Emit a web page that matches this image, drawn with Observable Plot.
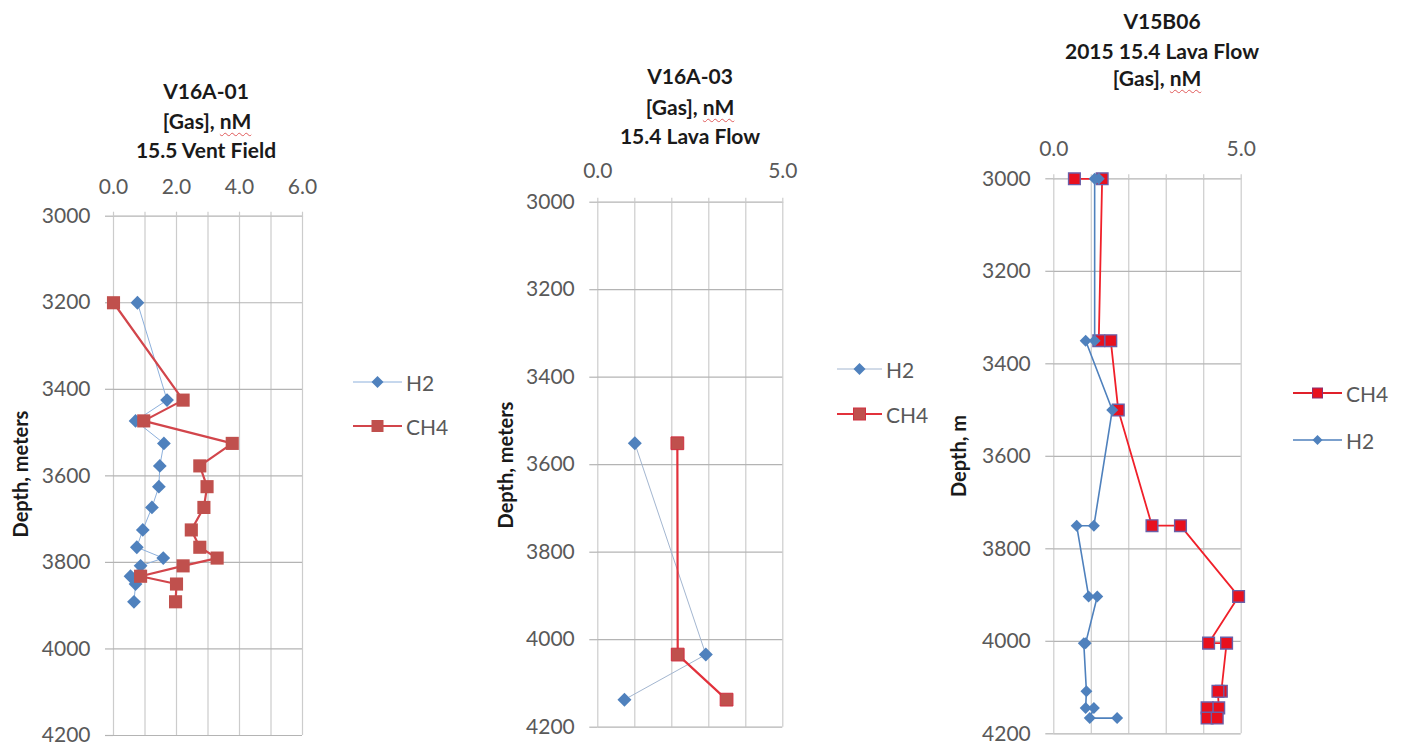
<!DOCTYPE html>
<html>
<head>
<meta charset="utf-8">
<script src="https://cdn.jsdelivr.net/npm/d3@7"></script>
<script src="https://cdn.jsdelivr.net/npm/@observablehq/plot@0.6"></script>
<style>
  body { margin: 0; background: #fff; }
  #wrap { position: relative; width: 1401px; height: 746px; overflow: hidden; background: #fff; font-family: Lato, "Open Sans", sans-serif; }
  .abs { position: absolute; white-space: nowrap; line-height: 1; }
  .title { font-weight: bold; font-size: 21px; color: #1a1a1a; transform: translate(-50%, -50%); }
  .ylab { font-weight: bold; font-size: 20px; color: #1a1a1a; transform: translate(-50%, -50%) rotate(-90deg); }
  .leg { font-size: 21px; color: #595959; transform: translateY(-50%); }
  .sq { text-decoration: underline wavy #e05a5a; text-decoration-thickness: 1px; text-underline-offset: 3px; }
  svg.plot { position: absolute; overflow: visible; }
</style>
</head>
<body>
<div id="wrap"></div>
<script>
// ---------------- DATA ----------------
// Panel 1: V16A-01, 15.5 Vent Field
const p1Depth = [3200, 3425, 3473, 3525, 3577, 3625, 3673, 3725, 3765, 3790, 3808, 3832, 3850, 3891];
const p1H2    = [0.76, 1.70, 0.70, 1.60, 1.47, 1.44, 1.22, 0.93, 0.74, 1.58, 0.86, 0.54, 0.70, 0.65];
const p1CH4   = [0.00, 2.21, 0.96, 3.77, 2.74, 2.97, 2.87, 2.47, 2.74, 3.29, 2.21, 0.86, 2.00, 1.97];

// Panel 2: V16A-03, 15.4 Lava Flow
const p2Depth = [3551, 4034, 4137];
const p2H2    = [1.00, 2.92, 0.72];
const p2CH4   = [2.15, 2.16, 3.48];

// Panel 3: V15B06, 2015 15.4 Lava Flow
const p3CH4Depth = [3000, 3000, 3350, 3350, 3500, 3750, 3750, 3903, 4004, 4004, 4108, 4108, 4144, 4144, 4166, 4166];
const p3CH4      = [0.55, 1.29, 1.20, 1.52, 1.72, 2.62, 3.38, 4.93, 4.13, 4.61, 4.47, 4.38, 4.40, 4.09, 4.09, 4.36];
const p3H2Depth  = [3000, 3000, 3350, 3350, 3500, 3750, 3750, 3903, 3903, 4004, 4004, 4108, 4144, 4144, 4166, 4166];
const p3H2       = [1.20, 1.09, 1.09, 0.85, 1.56, 1.07, 0.61, 0.93, 1.16, 0.85, 0.80, 0.87, 0.85, 1.07, 0.96, 1.69];

// Ticks
const depthTicks = [3000, 3200, 3400, 3600, 3800, 4000, 4200];
const p1XGrid = [0, 1, 2, 3, 4, 5, 6];
const p1XLabels = [0, 2, 4, 6];
const p23XGrid = [0, 1, 2, 3, 4, 5];
const p23XLabels = [0, 5];

// ---------------- HELPERS ----------------
const wrap = document.getElementById("wrap");
const FONT = 'Lato, "Open Sans", sans-serif';
const GRIDH = "#b4b4b4", GRIDV = "#cccccc", LABEL = "#595959";
const BLUE = "#4f81bd";

function zip(depth, vals) { return depth.map((d, i) => ({d, v: vals[i]})); }

function addDiv(cls, html, left, top) {
  const el = document.createElement("div");
  el.className = "abs " + cls;
  el.innerHTML = html;
  el.style.left = left + "px";
  el.style.top = top + "px";
  wrap.appendChild(el);
  return el;
}

function panel(cfg) {
  const svg = Plot.plot({
    width: cfg.width, height: cfg.height,
    marginLeft: cfg.ml, marginRight: cfg.mr, marginTop: cfg.mt, marginBottom: cfg.mb,
    x: {domain: [0, cfg.xmax], axis: null},
    y: {domain: [3000, 4200], reverse: true, axis: null},
    style: {fontFamily: FONT, fontSize: "21px", color: LABEL, background: "transparent", overflow: "visible"},
    marks: [
      Plot.gridX(cfg.xgrid, {stroke: GRIDV, strokeOpacity: 1, strokeWidth: 1.2}),
      Plot.gridY(depthTicks, {stroke: GRIDH, strokeOpacity: 1, strokeWidth: 1.2}),
      Plot.axisX({anchor: "top", ticks: cfg.xgrid, tickSize: 5, stroke: GRIDV, strokeWidth: 1.2, tickPadding: cfg.xpad,
        fill: LABEL, tickFormat: d => cfg.xlabels.includes(d) ? d.toFixed(1) : "", label: null}),
      Plot.axisY({anchor: "left", ticks: depthTicks, tickSize: 8, stroke: GRIDH, strokeWidth: 1.2, tickPadding: 15,
        fill: LABEL, tickFormat: d => String(d), label: null}),
      ...cfg.marks
    ]
  });
  svg.classList.add("plot");
  svg.style.left = cfg.left + "px";
  svg.style.top = cfg.top + "px";
  wrap.appendChild(svg);
}

function legendItem(x1, x2, y, textLeft, label, line, marker) {
  const w = x2 - x1, h = 20;
  const m = marker.type === "square"
    ? `<rect x="${w/2 - marker.s/2}" y="${h/2 - marker.s/2}" width="${marker.s}" height="${marker.s}" fill="${marker.fill}" stroke="${marker.stroke || 'none'}" stroke-width="1"/>`
    : `<path d="M${w/2},${h/2 - marker.s/2} L${w/2 + marker.s/2},${h/2} L${w/2},${h/2 + marker.s/2} L${w/2 - marker.s/2},${h/2} Z" fill="${marker.fill}"/>`;
  const el = document.createElement("div");
  el.className = "abs";
  el.style.left = x1 + "px"; el.style.top = (y - h/2) + "px";
  el.innerHTML = `<svg width="${w}" height="${h}" style="display:block"><line x1="0" x2="${w}" y1="${h/2}" y2="${h/2}" stroke="${line.stroke}" stroke-width="${line.width}"/>${m}</svg>`;
  wrap.appendChild(el);
  addDiv("leg", label, textLeft, y);
}

// ---------------- PANEL 1 ----------------
const p1H2Data = zip(p1Depth, p1H2), p1CH4Data = zip(p1Depth, p1CH4);
panel({
  left: 0, top: 150, width: 340, height: 596, ml: 113, mr: 38, mt: 65.7, mb: 11,
  xmax: 6, xgrid: p1XGrid, xlabels: p1XLabels, xpad: 17,
  marks: [
    Plot.line(p1H2Data, {x: "v", y: "d", stroke: "#8db0dc", strokeWidth: 1}),
    Plot.dot(p1H2Data, {x: "v", y: "d", symbol: "diamond2", r: 6.2, fill: BLUE}),
    Plot.line(p1CH4Data, {x: "v", y: "d", stroke: "#d2454b", strokeWidth: 2.2}),
    Plot.dot(p1CH4Data, {x: "v", y: "d", symbol: "square", r: 7.4, fill: "#c0504d"})
  ]
});
addDiv("title", "V16A-01", 206, 90);
addDiv("title", '[Gas], <span class="sq">nM</span>', 207, 120);
addDiv("title", "15.5 Vent Field", 206, 149);
addDiv("ylab", "Depth, meters", 20, 474);
legendItem(353, 402, 382, 406, "H2", {stroke: "#8db0dc", width: 1}, {type: "diamond", s: 12, fill: BLUE});
legendItem(353, 402, 426, 406, "CH4", {stroke: "#d2454b", width: 2.2}, {type: "square", s: 12, fill: "#c0504d"});

// ---------------- PANEL 2 ----------------
const p2H2Data = zip(p2Depth, p2H2), p2CH4Data = zip(p2Depth, p2CH4);
panel({
  left: 470, top: 150, width: 340, height: 596, ml: 127.3, mr: 27.7, mt: 51.7, mb: 19.3,
  xmax: 5, xgrid: p23XGrid, xlabels: p23XLabels, xpad: 19,
  marks: [
    Plot.line(p2H2Data, {x: "v", y: "d", stroke: "#a3b6d0", strokeWidth: 1}),
    Plot.dot(p2H2Data, {x: "v", y: "d", symbol: "diamond2", r: 6.3, fill: BLUE}),
    Plot.line(p2CH4Data, {x: "v", y: "d", stroke: "#e2313b", strokeWidth: 2.2}),
    Plot.dot(p2CH4Data, {x: "v", y: "d", symbol: "square", r: 7.2, fill: "#c0504d", stroke: "#d03040", strokeWidth: 1})
  ]
});
addDiv("title", "V16A-03", 690, 75);
addDiv("title", '[Gas], <span class="sq">nM</span>', 690, 106);
addDiv("title", "15.4 Lava Flow", 690, 135);
addDiv("ylab", "Depth, meters", 505, 465);
legendItem(837, 882, 369, 886, "H2", {stroke: "#a3b6d0", width: 1}, {type: "diamond", s: 12, fill: BLUE});
legendItem(837, 882, 414, 886, "CH4", {stroke: "#e2313b", width: 2.2}, {type: "square", s: 12, fill: "#c0504d", stroke: "#d03040"});

// ---------------- PANEL 3 ----------------
const p3CH4Data = zip(p3CH4Depth, p3CH4), p3H2Data = zip(p3H2Depth, p3H2);
panel({
  left: 940, top: 110, width: 340, height: 636, ml: 113.3, mr: 39.3, mt: 68.3, mb: 12.7,
  xmax: 5, xgrid: p23XGrid, xlabels: p23XLabels, xpad: 18,
  marks: [
    Plot.line(p3CH4Data, {x: "v", y: "d", stroke: "#f0202a", strokeWidth: 1.8}),
    Plot.dot(p3CH4Data, {x: "v", y: "d", symbol: "square", r: 6.6, fill: "#e8101e", stroke: "#6a5fa8", strokeWidth: 1.4}),
    Plot.line(p3H2Data, {x: "v", y: "d", stroke: BLUE, strokeWidth: 1.6}),
    Plot.dot(p3H2Data, {x: "v", y: "d", symbol: "diamond2", r: 5.4, fill: BLUE})
  ]
});
addDiv("title", "V15B06", 1162, 20);
addDiv("title", "2015 15.4 Lava Flow", 1162, 50);
addDiv("title", '[Gas], <span class="sq">nM</span>', 1157, 77);
addDiv("ylab", "Depth, m", 958, 456);
legendItem(1293, 1342, 393, 1346, "CH4", {stroke: "#e0202a", width: 1.8}, {type: "square", s: 10, fill: "#e8101e", stroke: "#8a3070"});
legendItem(1293, 1342, 440, 1346, "H2", {stroke: BLUE, width: 1.6}, {type: "diamond", s: 10, fill: BLUE});
</script>
</body>
</html>
